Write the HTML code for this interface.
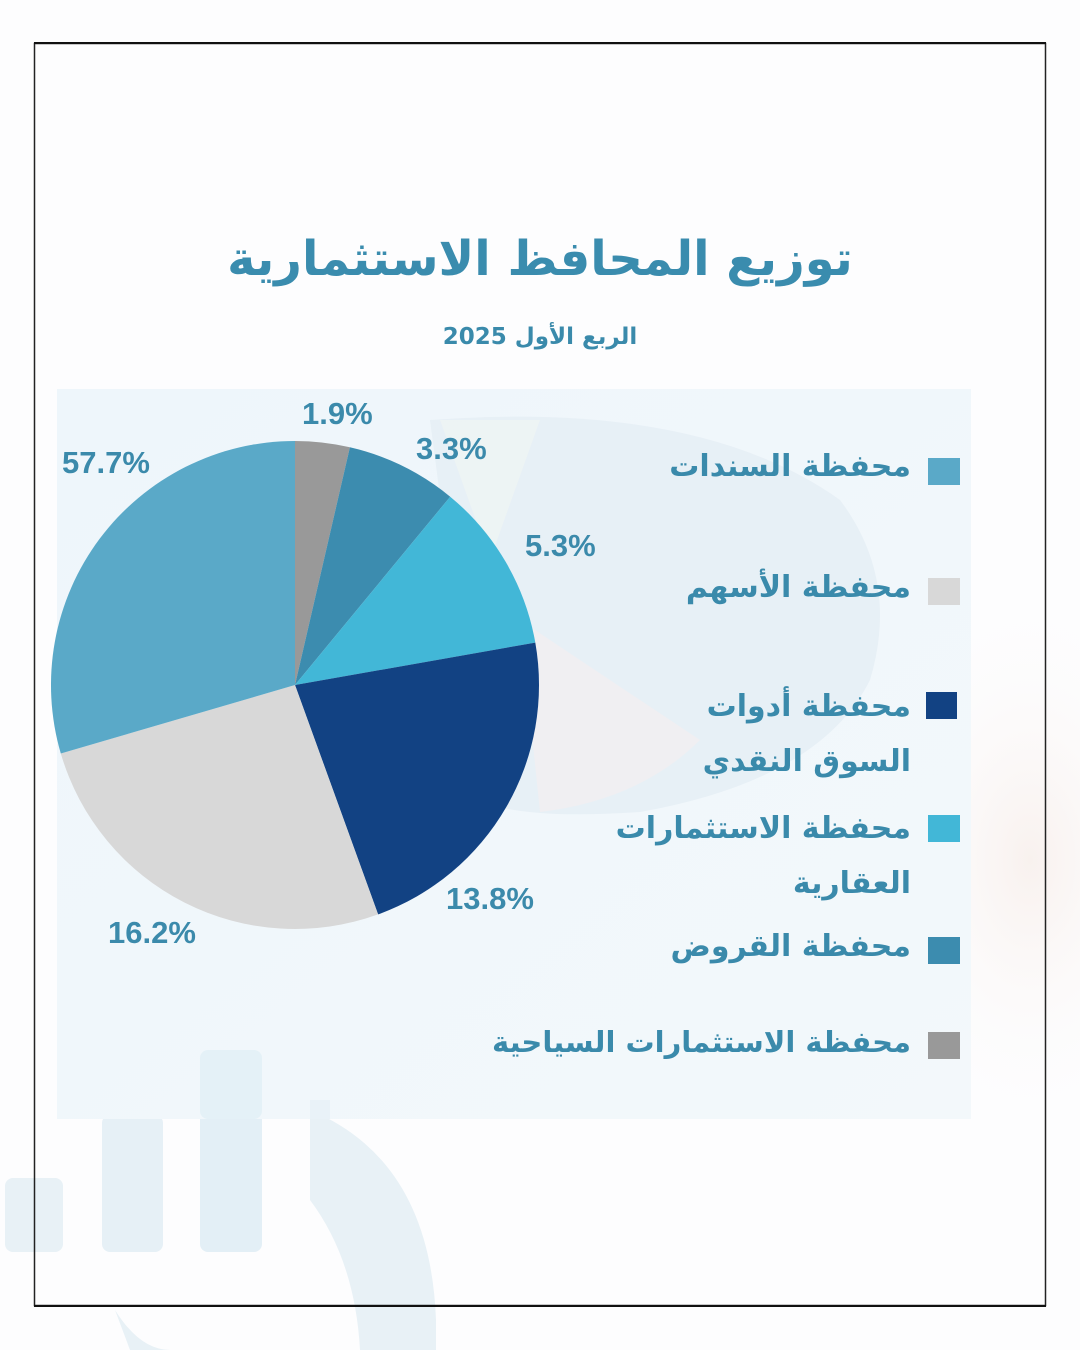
<!DOCTYPE html>
<html><head><meta charset="utf-8">
<style>
html,body{margin:0;padding:0;}
body{width:1080px;height:1350px;position:relative;overflow:hidden;background:#fdfdfe;font-family:"Liberation Sans","DejaVu Sans",sans-serif;}
.ar{font-family:"DejaVu Sans",sans-serif;font-weight:bold;color:#3a8aab;position:absolute;white-space:nowrap;direction:rtl;}
.pct{position:absolute;font-family:"Liberation Sans",sans-serif;font-weight:bold;color:#3b8aab;font-size:31px;line-height:32px;white-space:nowrap;}
.leg{right:169px;font-size:30px;line-height:34px;text-align:right;}
.sw{position:absolute;width:32px;height:27px;}
</style></head>
<body>
<svg width="1080" height="1350" style="position:absolute;left:0;top:0" xmlns="http://www.w3.org/2000/svg">
  <defs>
    <linearGradient id="pg" x1="0" y1="0" x2="1" y2="1">
      <stop offset="0" stop-color="#eef6fb"/>
      <stop offset="1" stop-color="#f3f8fb"/>
    </linearGradient>
    <radialGradient id="warm" cx="0.5" cy="0.5" r="0.5">
      <stop offset="0" stop-color="#f7eeea" stop-opacity="0.8"/>
      <stop offset="1" stop-color="#fdfdfe" stop-opacity="0"/>
    </radialGradient>
  </defs>
  <rect x="0" y="0" width="1080" height="1350" fill="#fdfdfe"/>
  <ellipse cx="1030" cy="860" rx="170" ry="280" fill="url(#warm)"/>
  <!-- bottom watermark -->
  <rect x="5" y="1178" width="58" height="74" rx="8" fill="#e8f1f6"/>
  <rect x="102" y="1115" width="61" height="137" rx="8" fill="#e6f0f6"/>
  <rect x="200" y="1050" width="62" height="202" rx="8" fill="#e3eff6"/>
  <path d="M310 1110 Q430 1160 436 1320 L436 1350 L360 1350 Q355 1260 310 1200 Z" fill="#e8f1f6"/>
  <path d="M115 1310 Q140 1350 170 1350 L130 1350 Z" fill="#e8f1f6"/>
  <!-- panel -->
  <rect x="57" y="389" width="914" height="730" fill="url(#pg)"/>
  <!-- faint bars through panel -->
  <rect x="200" y="1050" width="62" height="69" rx="8" fill="#dcecf5" opacity="0.6"/>
  <rect x="310" y="1100" width="20" height="19" fill="#e2eef5" opacity="0.5"/>
  <!-- faint watermark pie -->
  <path d="M430 420 Q700 400 840 500 Q900 580 870 680 Q820 780 640 812 Q520 820 480 800 Z" fill="#e5eef5" opacity="0.9"/>
  <path d="M520 620 L700 740 Q640 800 540 812 Z" fill="#f1eef2" opacity="0.9"/>
  <path d="M440 420 L540 420 L490 560 Z" fill="#eff5f4" opacity="0.7"/>
  <!-- border -->
  <rect x="34.5" y="43.5" width="1011" height="1262" fill="none" stroke="#222" stroke-width="1.5"/>
  <line x1="34" y1="43" x2="1046" y2="43" stroke="#111" stroke-width="2"/>
  <line x1="34" y1="1306" x2="1046" y2="1306" stroke="#111" stroke-width="2"/>
  <!-- pie -->
  <g transform="translate(295,685)">
    <path d="M0 0 L0 -244 A244 244 0 0 1 54.9 -237.7 Z" fill="#999999"/>
    <path d="M0 0 L54.9 -237.7 A244 244 0 0 1 155.2 -188.3 Z" fill="#3c8caf"/>
    <path d="M0 0 L155.2 -188.3 A244 244 0 0 1 240.3 -42.4 Z" fill="#42b7d7"/>
    <path d="M0 0 L240.3 -42.4 A244 244 0 0 1 83.1 229.4 Z" fill="#124283"/>
    <path d="M0 0 L83.1 229.4 A244 244 0 0 1 -234.2 68.5 Z" fill="#d8d8d8"/>
    <path d="M0 0 L-234.2 68.5 A244 244 0 0 1 0 -244 Z" fill="#5aa9c8"/>
  </g>
</svg>

<div class="ar" style="left:0;width:1080px;top:224px;font-size:48px;line-height:70px;text-align:center;color:#3a8cae;">توزيع المحافظ الاستثمارية</div>
<div class="ar" style="left:0;width:1080px;top:322px;font-size:23px;line-height:30px;text-align:center;">الربع الأول 2025</div>

<div class="pct" style="left:302px;top:398px;">1.9%</div>
<div class="pct" style="left:416px;top:433px;">3.3%</div>
<div class="pct" style="left:525px;top:530px;">5.3%</div>
<div class="pct" style="left:62px;top:447px;">57.7%</div>
<div class="pct" style="left:446px;top:883px;">13.8%</div>
<div class="pct" style="left:108px;top:917px;">16.2%</div>

<div class="ar leg" style="top:450px;">محفظة السندات</div>
<div class="ar leg" style="top:571px;">محفظة الأسهم</div>
<div class="ar leg" style="top:690px;">محفظة أدوات</div>
<div class="ar leg" style="top:745px;">السوق النقدي</div>
<div class="ar leg" style="top:812px;">محفظة الاستثمارات</div>
<div class="ar leg" style="top:867px;">العقارية</div>
<div class="ar leg" style="top:930px;">محفظة القروض</div>
<div class="ar leg" style="top:1025px;font-size:29px;">محفظة الاستثمارات السياحية</div>

<div class="sw" style="left:928px;top:458px;background:#5aa9c8;"></div>
<div class="sw" style="left:928px;top:578px;background:#d8d8d8;"></div>
<div class="sw" style="left:926px;top:692px;width:31px;background:#124283;"></div>
<div class="sw" style="left:928px;top:815px;background:#42b7d7;"></div>
<div class="sw" style="left:928px;top:937px;background:#3c8caf;"></div>
<div class="sw" style="left:928px;top:1032px;background:#999999;"></div>
</body></html>
